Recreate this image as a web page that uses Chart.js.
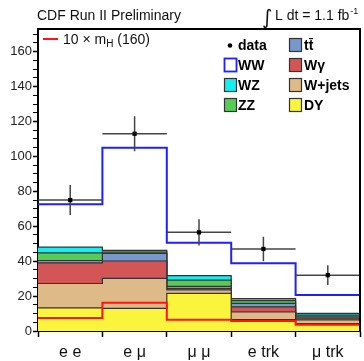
<!DOCTYPE html>
<html>
<head>
<meta charset="utf-8">
<script src="https://cdn.jsdelivr.net/npm/chart.js@4.4.0/dist/chart.umd.min.js"></script>
<style>
html, body { margin: 0; padding: 0; overflow: hidden; background: #fff; }
canvas { display: block; }
</style>
</head>
<body>
<canvas id="c" width="366" height="361"></canvas>
<script>
// channels (bins)
const channels = ['e e', 'e \u03bc', '\u03bc \u03bc', 'e trk', '\u03bc trk'];

// background components, events per channel (stacked bottom to top)
const dyVals    = [13.2, 13.0, 21.5, 6.5, 4.3];
const wjetsVals = [14.0, 17.1, 2.0, 4.5, 2.1];
const wgamVals  = [11.8, 10.0, 0.8, 2.8, 0.9];
const ttVals    = [1.4, 4.3, 1.3, 2.0, 0.8];
const zzVals    = [4.3, 0.8, 3.6, 1.6, 1.0];
const wzVals    = [3.3, 1.0, 2.5, 1.2, 1.0];
const wwVals    = [24.6, 58.8, 18.9, 20.2, 10.5];

// 10 x Higgs signal (mH = 160)
const higgsVals = [7.5, 16.2, 6.5, 5.8, 3.6];

// observed data and errors
const dataVals = [75, 113, 56.5, 47, 32];
const dataErrs = [8.6, 10.0, 7.5, 7.0, 5.6];

const yTicks = [0, 20, 40, 60, 80, 100, 120, 140, 160];

const FONT = 'Liberation Sans, Arial, sans-serif';

// stack order bottom -> top
const layers = [
  { name: 'DY', vals: dyVals, color: '#fbf43c' },
  { name: 'W+jets', vals: wjetsVals, color: '#dfba89' },
  { name: 'W\u03b3', vals: wgamVals, color: '#d35656' },
  { name: 'tt', vals: ttVals, color: '#7897cb' },
  { name: 'ZZ', vals: zzVals, color: '#55cc55' },
  { name: 'WZ', vals: wzVals, color: '#13eef0' }
];

function steps(vals) {
  const pts = vals.map((v, i) => ({ x: i, y: v }));
  pts.push({ x: vals.length, y: vals[vals.length - 1] });
  return pts;
}

let running = [0, 0, 0, 0, 0];
const datasets = [];
layers.forEach((l, k) => {
  running = running.map((r, i) => r + l.vals[i]);
  datasets.push({
    label: l.name,
    data: steps(running),
    stepped: true,
    borderColor: '#333',
    borderWidth: 1.2,
    backgroundColor: l.color,
    fill: k === 0 ? 'origin' : '-1',
    pointRadius: 0,
    order: 10
  });
});
running = running.map((r, i) => r + wwVals[i]);
datasets.push({
  label: 'WW',
  data: steps(running),
  stepped: true,
  borderColor: '#1f1fff',
  borderWidth: 2,
  fill: false,
  pointRadius: 0,
  order: 5
});
datasets.push({
  label: 'higgs',
  data: steps(higgsVals),
  stepped: true,
  borderColor: '#ff1414',
  borderWidth: 2,
  fill: false,
  pointRadius: 0,
  order: 3
});
const dataIndex = datasets.length;
datasets.push({
  label: 'data',
  data: dataVals.map((v, i) => ({ x: i + 0.5, y: v })),
  showLine: false,
  pointStyle: 'rect',
  pointRadius: 3,
  pointBackgroundColor: '#000',
  pointBorderColor: '#000',
  pointBorderWidth: 0,
  order: 1
});

const errorBars = {
  id: 'errorBars',
  beforeDatasetDraw(chart, args) {
    if (args.index !== dataIndex) return;
    const ctx = chart.ctx, xs = chart.scales.x, ys = chart.scales.y;
    ctx.save();
    ctx.strokeStyle = '#444';
    ctx.lineWidth = 1.5;
    dataVals.forEach((v, i) => {
      const y = ys.getPixelForValue(v);
      const xc = xs.getPixelForValue(i + 0.5);
      ctx.beginPath();
      ctx.moveTo(xs.getPixelForValue(i), y);
      ctx.lineTo(xs.getPixelForValue(i + 1), y);
      ctx.moveTo(xc, ys.getPixelForValue(v + dataErrs[i]));
      ctx.lineTo(xc, ys.getPixelForValue(v - dataErrs[i]));
      ctx.stroke();
    });
    ctx.restore();
  }
};

const decorations = {
  id: 'decorations',
  afterDraw(chart) {
    const ctx = chart.ctx, a = chart.chartArea;
    ctx.save();
    // frame top / right
    ctx.strokeStyle = '#000';
    ctx.lineWidth = 2;
    ctx.beginPath();
    ctx.moveTo(a.left - 1, a.top);
    ctx.lineTo(a.right, a.top);
    ctx.lineTo(a.right, a.bottom);
    ctx.stroke();

    ctx.fillStyle = '#111';
    ctx.textBaseline = 'alphabetic';
    ctx.font = '14px ' + FONT;
    ctx.fillText('CDF Run II Preliminary', 37, 20);

    ctx.font = '20px DejaVu Sans';
    ctx.fillText('\u222b', 262, 24);
    ctx.font = '14px ' + FONT;
    const t = 'L dt = 1.1 fb';
    ctx.fillText(t, 275, 20);
    const w = ctx.measureText(t).width;
    ctx.font = '9px ' + FONT;
    ctx.fillText('-1', 275 + w + 1, 14);

    // signal legend
    ctx.strokeStyle = '#ff1414';
    ctx.lineWidth = 2;
    ctx.beginPath();
    ctx.moveTo(43, 39);
    ctx.lineTo(58, 39);
    ctx.stroke();
    ctx.font = '14px ' + FONT;
    let x = 63;
    ctx.fillText('10 \u00d7 m', x, 44);
    x += ctx.measureText('10 \u00d7 m').width;
    ctx.font = '10px ' + FONT;
    ctx.fillText('H', x, 47);
    x += ctx.measureText('H').width;
    ctx.font = '14px ' + FONT;
    ctx.fillText(' (160)', x, 44);

    // process legend
    ctx.font = 'bold 14px ' + FONT;
    const rows = [50, 70, 90, 110];
    ctx.fillStyle = '#000';
    ctx.beginPath();
    ctx.arc(230, 45.5, 2.3, 0, Math.PI * 2);
    ctx.fill();
    ctx.fillText('data', 238, rows[0]);
    const col1 = [
      { n: 'WW', c: '#fff', b: '#1f1fff' },
      { n: 'WZ', c: layers[5].color, b: '#333' },
      { n: 'ZZ', c: layers[4].color, b: '#333' }
    ];
    const col2 = [
      { n: 'tt\u0304', c: layers[3].color, b: '#333' },
      { n: 'W\u03b3', c: layers[2].color, b: '#333' },
      { n: 'W+jets', c: layers[1].color, b: '#333' },
      { n: 'DY', c: layers[0].color, b: '#333' }
    ];
    function box(bx, by, e) {
      ctx.fillStyle = e.c;
      ctx.fillRect(bx, by, 12, 13);
      ctx.strokeStyle = e.b;
      ctx.lineWidth = e.n === 'WW' ? 1.8 : 1.2;
      ctx.strokeRect(bx, by, 12, 13);
      ctx.fillStyle = '#000';
    }
    col1.forEach((e, i) => {
      const by = rows[i + 1];
      box(224.5, by - 11.5, e);
      ctx.fillText(e.n, 238, by);
    });
    col2.forEach((e, i) => {
      const by = rows[i];
      box(289.5, by - 11.5, e);
      ctx.fillText(e.n, 304, by);
    });
    ctx.restore();
  }
};

const xTickVals = [];
for (let v = 0; v <= 5; v += 0.5) xTickVals.push(v);
const yTickVals = [];
for (let v = 0; v <= 170; v += 5) yTickVals.push(v);

new Chart(document.getElementById('c'), {
  type: 'line',
  data: { datasets: datasets },
  options: {
    responsive: false,
    animation: false,
    events: [],
    layout: { padding: { top: 29, right: 1, left: 0, bottom: 0 } },
    plugins: { legend: { display: false }, tooltip: { enabled: false } },
    scales: {
      x: {
        type: 'linear',
        min: 0,
        max: 5,
        afterBuildTicks: s => { s.ticks = xTickVals.map(v => ({ value: v })); },
        afterFit: s => { s.height = 30; },
        ticks: {
          autoSkip: false,
          maxRotation: 0,
          padding: 6,
          color: '#111',
          font: { family: FONT, size: 16 },
          callback: v => Number.isInteger(v) ? '' : channels[Math.floor(v)]
        },
        grid: {
          drawOnChartArea: false,
          tickLength: 6,
          tickWidth: 1.5,
          tickColor: c => Number.isInteger(c.tick.value) ? '#000' : 'rgba(0,0,0,0)'
        },
        border: { color: '#000', width: 2 }
      },
      y: {
        min: 0,
        max: 173,
        afterBuildTicks: s => { s.ticks = yTickVals.map(v => ({ value: v })); },
        afterFit: s => { s.width = 38; },
        ticks: {
          autoSkip: false,
          padding: 1,
          color: '#222',
          font: { family: FONT, size: 13 },
          callback: v => yTicks.includes(v) ? String(v) : ''
        },
        grid: {
          drawOnChartArea: false,
          tickLength: 5,
          tickWidth: c => yTicks.includes(c.tick.value) ? 1.5 : 1,
          tickColor: '#000'
        },
        border: { color: '#000', width: 2 }
      }
    }
  },
  plugins: [errorBars, decorations]
});
</script>
</body>
</html>
